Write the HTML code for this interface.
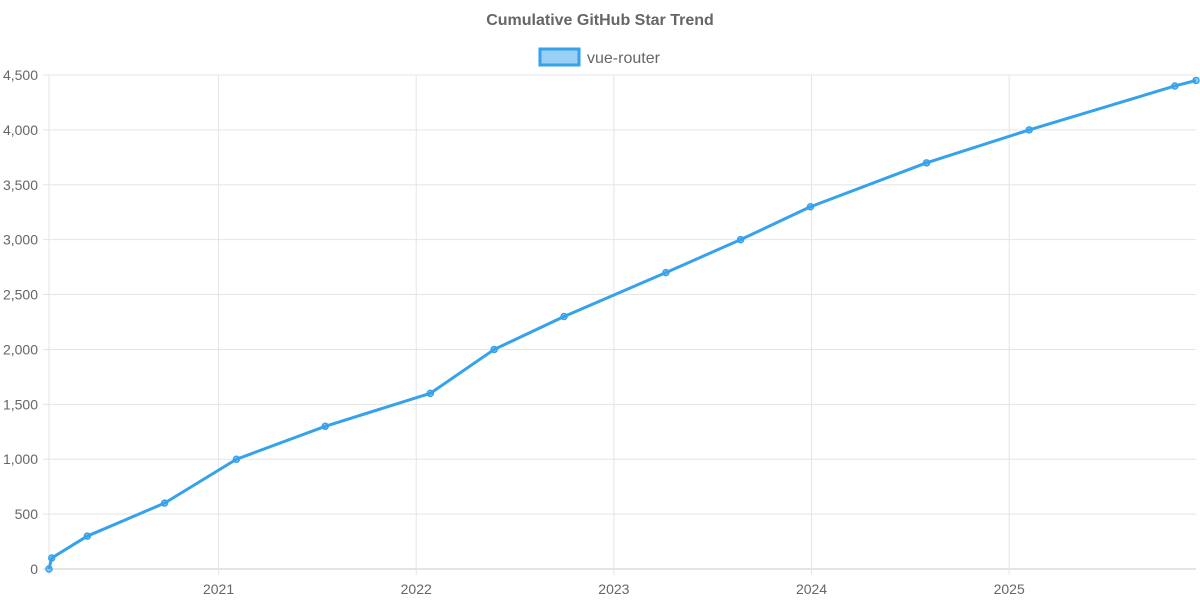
<!DOCTYPE html>
<html><head><meta charset="utf-8"><style>
html,body{margin:0;padding:0;background:#fff;}
svg{display:block;font-family:"Liberation Sans",sans-serif;}
</style></head><body>
<svg id="chart" width="1200" height="600"></svg>
<script>
const dates=["2020-02-22","2020-02-27","2020-05-03","2020-09-23","2021-02-03","2021-07-17","2022-01-27","2022-05-25","2022-10-01","2023-04-07","2023-08-23","2023-12-30","2024-08-01","2025-02-07","2025-11-03","2025-12-12"];
const stars=[0,100,300,600,1000,1300,1600,2000,2300,2700,3000,3300,3700,4000,4400,4450];
const yTicks=[0,500,1000,1500,2000,2500,3000,3500,4000,4500];
const xTickYears=[2021,2022,2023,2024,2025];
const seriesName="vue-router";

const NS="http://www.w3.org/2000/svg";
const svg=document.getElementById('chart');
function mk(t,a,p){const e=document.createElementNS(NS,t);for(const k in a)e.setAttribute(k,a[k]);(p||svg).appendChild(e);return e;}
function toYear(s){const d=new Date(s+"T00:00:00Z");const y=d.getUTCFullYear();const s0=Date.UTC(y,0,1),s1=Date.UTC(y+1,0,1);return y+(d-s0)/(s1-s0);}
const L=49,R=1196,T=75,B=569;
const xMin=toYear(dates[0]),xMax=toYear(dates[dates.length-1]);
const x=v=>L+(v-xMin)/(xMax-xMin)*(R-L);
const y=v=>B-v/4500*(B-T);

const title=mk('text',{x:600,y:25,'text-anchor':'middle','font-size':16,'font-weight':'bold',fill:'#666'});
title.textContent="Cumulative GitHub Star Trend";



const lg=mk('g',{});


mk('rect',{x:540,y:49,width:39,height:16,fill:'rgba(54,162,235,0.5)',stroke:'#36a2eb','stroke-width':3},lg);
const lt=mk('text',{x:587,y:63,'font-size':16,fill:'#666'},lg);lt.textContent=seriesName;

yTicks.forEach(v=>{
  const gl=mk('line',{x1:L-6,x2:R,y1:y(v),y2:y(v),stroke:v===0?'#c8c8c8':'#e5e5e5','stroke-width':1});
  
  
  const t=mk('text',{x:38,y:y(v)+5,'text-anchor':'end','font-size':14,fill:'#666'});
  t.textContent=v.toLocaleString('en-US');
  
  
});
mk('line',{x1:L,x2:L,y1:T,y2:B+6,stroke:'#e5e5e5'});
xTickYears.forEach(yr=>{
  const xx=x(yr);
  const gl=mk('line',{x1:xx,x2:xx,y1:T,y2:B+6,stroke:'#e5e5e5'});
  
  
  const t=mk('text',{x:xx,y:594,'text-anchor':'middle','font-size':14,fill:'#666'});
  t.textContent=String(yr);
  
  
});

const pts=dates.map((d,i)=>[x(toYear(d)),y(stars[i])]);
const line=mk('polyline',{points:pts.map(p=>p.join(',')).join(' '),fill:'none',stroke:'#36a2eb','stroke-width':3,'stroke-linejoin':'round'});


pts.forEach(p=>{
  const c=mk('circle',{cx:p[0],cy:p[1],r:3,fill:'rgba(54,162,235,0.5)',stroke:'#36a2eb','stroke-width':1.5});
  
  
});
</script>
</body></html>
